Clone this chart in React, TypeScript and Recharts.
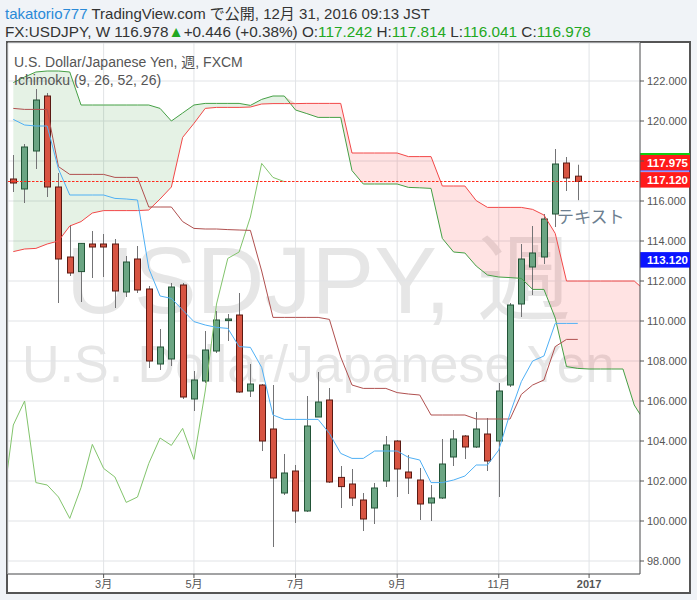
import React from 'react';
import { ComposedChart, Bar, Line, Area, XAxis, YAxis, CartesianGrid, ReferenceLine } from 'recharts';

// weekly bars: index 0 = week of 2016-01-11
const opens = [117.1, 116.6, 118.5, 121.25, 116.7, 113.2, 112.47, 113.85, 113.85, 113.85, 111.45, 113.1, 111.6, 107.85, 108.1, 111.8, 106.1, 107.0, 108.5, 110.02, 110.3, 106.5, 106.8, 104.6, 101.4, 102.5, 100.5, 105.2, 106.05, 102.18, 101.85, 101.05, 100.65, 102.0, 104.0, 102.45, 102.05, 100.9, 101.15, 103.2, 104.25, 103.7, 104.35, 104.0, 106.8, 110.85, 112.7, 113.2, 115.35, 117.9, 117.242];
const highs = [118.3, 118.85, 121.6, 121.4, 117.4, 114.8, 113.9, 114.5, 114.35, 114.1, 113.25, 113.75, 111.75, 109.6, 111.9, 111.9, 107.5, 109.5, 110.5, 110.35, 111.4, 107.85, 106.85, 106.8, 103.35, 102.8, 106.25, 107.45, 106.65, 102.75, 102.6, 101.4, 101.9, 104.25, 104.05, 103.3, 102.65, 101.8, 104.1, 104.55, 104.3, 105.45, 105.15, 106.9, 110.9, 113.85, 114.75, 115.35, 118.6, 118.2, 117.814];
const lows = [116.45, 115.9, 117.6, 116.2, 110.9, 112.25, 110.95, 112.15, 112.2, 110.65, 111.2, 111.4, 107.65, 107.55, 107.75, 106.1, 105.5, 106.9, 108.4, 109.0, 106.4, 106.2, 103.5, 98.7, 101.3, 99.9, 100.45, 105.2, 101.9, 100.65, 100.75, 99.5, 99.85, 101.7, 101.2, 101.35, 100.05, 100.0, 101.1, 102.75, 103.1, 103.65, 102.5, 101.2, 106.7, 110.2, 111.3, 112.85, 114.7, 116.5, 116.041];
const closes = [116.9, 118.7, 121.05, 116.7, 113.1, 112.4, 113.88, 113.7, 113.7, 111.5, 112.95, 111.55, 108.0, 108.7, 111.7, 106.2, 107.05, 108.55, 110.05, 110.1, 106.45, 106.85, 104.0, 102.15, 102.4, 100.5, 104.75, 105.95, 101.95, 101.72, 101.15, 100.1, 101.65, 103.8, 102.6, 102.15, 100.85, 101.15, 102.85, 104.1, 103.7, 104.6, 103.0, 106.5, 110.8, 113.1, 113.4, 115.1, 117.85, 117.15, 116.978];

// Ichimoku (9, 26, 52, 26)
const tenkan = [120.08, 119.8, 119.75, 119.75, 117.6, 116.3, 116.3, 116.3, 116.3, 116.13, 116.1, 116.05, 112.63, 111.25, 111.13, 110.55, 109.97, 109.8, 109.68, 109.63, 108.72, 108.68, 107.68, 105.3, 105.08, 105.08, 105.08, 105.08, 104.38, 103.38, 103.13, 103.13, 103.5, 103.5, 103.5, 103.18, 103.05, 101.92, 101.92, 102.05, 102.25, 102.8, 102.8, 103.55, 105.38, 106.97, 108.0, 108.25, 109.88, 109.88, 109.88];
const kijun = [120.63, 120.58, 120.58, 120.58, 117.72, 117.33, 117.33, 117.33, 117.33, 117.18, 117.18, 117.18, 115.7, 115.7, 115.7, 114.97, 114.63, 114.6, 114.6, 114.57, 114.55, 114.53, 112.5, 110.18, 110.18, 110.18, 110.18, 110.18, 110.08, 108.2, 106.8, 106.63, 106.63, 106.63, 106.42, 106.35, 106.3, 105.3, 105.3, 105.3, 105.3, 105.1, 105.1, 105.1, 105.1, 106.33, 106.8, 107.05, 108.72, 109.08, 109.08];
const senkouA = [121.92, 122.2, 122.45, 122.5, 122.5, 122.45, 120.8, 120.8, 120.8, 120.8, 120.8, 120.8, 120.8, 120.63, 120.0, 120.4, 120.8, 120.88, 120.88, 120.88, 120.88, 120.78, 121.08, 121.25, 121.25, 120.55, 120.37, 120.18, 120.18, 120.18, 117.52, 116.85, 116.85, 116.85, 116.85, 116.68, 116.66, 116.63, 114.13, 113.45, 113.4, 112.75, 112.3, 112.2, 112.17, 112.13, 111.58, 111.58, 110.15, 107.72, 107.63, 107.6, 107.6, 107.6, 107.6, 105.8, 104.9];
const senkouB = [113.47, 113.6, 113.63, 113.85, 114.0, 114.75, 114.97, 115.4, 115.52, 115.52, 115.52, 115.52, 115.55, 116.1, 116.7, 119.18, 119.88, 120.63, 120.68, 120.68, 120.68, 120.7, 120.85, 120.87, 120.87, 120.87, 120.88, 120.88, 120.88, 120.88, 118.4, 118.4, 118.4, 118.4, 118.4, 118.22, 118.22, 118.22, 116.75, 116.75, 116.75, 116.02, 115.68, 115.68, 115.68, 115.68, 115.58, 115.3, 114.38, 112.0, 112.0, 112.0, 112.0, 112.0, 112.0, 112.0, 111.5];
const chikouStart = -1;
const chikou = [100.5, 104.8, 106.0, 101.92, 101.8, 101.2, 100.13, 101.67, 103.83, 102.63, 102.2, 100.93, 101.2, 102.88, 104.15, 103.78, 104.63, 103.08, 106.5, 110.85, 113.13, 113.45, 115.2, 117.88, 117.18, 116.97];

const lastClose = 116.978;
const monthTicks = [8, 16, 25, 34, 43, 51];
const monthLabels = ['3月', '5月', '7月', '9月', '11月', '2017'];
const priceTicks = [98, 100, 102, 104, 106, 108, 110, 112, 114, 116, 118, 120, 122];
const hiddenPriceLabels = [118]; // covered by the price tags in the reference

const rows: any[] = [];
for (let i = -1; i <= 56; i++) {
  const r: any = { i };
  if (i >= 0 && i < opens.length) {
    r.o = opens[i]; r.h = highs[i]; r.l = lows[i]; r.c = closes[i];
    r.hl = [lows[i], highs[i]];
    r.tenkan = tenkan[i]; r.kijun = kijun[i];
  }
  if (i >= 0 && i < senkouA.length) {
    const a = senkouA[i], b = senkouB[i];
    r.a = a; r.b = b;
    r.g = [b, Math.max(a, b)];
    r.rd = [a, Math.max(a, b)];
  }
  const ci = i - chikouStart;
  if (ci >= 0 && ci < chikou.length) r.ch = chikou[ci];
  rows.push(r);
}

const Candle = (props: any) => {
  const { x, y, width, height, payload } = props;
  if (!payload || payload.o == null) return null;
  const { o, h, l, c } = payload;
  const top0 = Math.min(y, y + height);
  const hh = Math.abs(height);
  const py = (v: number) => top0 + ((h - v) / (h - l)) * hh;
  const up = c >= o;
  const cx = Math.round(x + width / 2) + 0.5;
  const bt = py(Math.max(o, c));
  const bb = py(Math.min(o, c));
  return (
    <g>
      <line x1={cx} x2={cx} y1={py(h)} y2={py(l)} stroke="#737375" strokeWidth={1} />
      <rect x={cx - 3} y={bt} width={6} height={Math.max(bb - bt, 1)}
        fill={up ? '#6ba583' : '#d75442'} stroke={up ? '#225437' : '#5b1a13'} strokeWidth={1} />
    </g>
  );
};

const XTick = (props: any) => {
  const { x, y, payload } = props;
  const idx = monthTicks.indexOf(payload.value);
  const label = idx >= 0 ? monthLabels[idx] : '';
  return (
    <text x={x} y={y} dy="0.71em" textAnchor="middle" fontSize={11} fill="#555"
      fontWeight={label === '2017' ? 'bold' : 'normal'}>{label}</text>
  );
};

const YTick = (props: any) => {
  const { x, y, payload } = props;
  if (hiddenPriceLabels.indexOf(payload.value) >= 0) return null;
  return (
    <text x={x} y={y} dy="0.355em" textAnchor="start" fontSize={11} fill="#555">{Number(payload.value).toFixed(3)}</text>
  );
};

const PriceLine = (props: any) => {
  const { viewBox } = props;
  if (!viewBox) return null;
  const yy = Math.round(viewBox.y) + 0.5;
  const x0 = viewBox.x, x1 = viewBox.x + viewBox.width;
  const segs: any[] = [];
  for (let xx = x0; xx < x1; xx += 4) {
    segs.push(<rect key={xx} x={xx} y={yy - 0.5} width={2.5} height={1} fill="#ff2a1a" />);
  }
  return <g>{segs}</g>;
};

const Tag = (props: any) => {
  const { viewBox, text, bg, topLine, bottomLine } = props;
  if (!viewBox) return null;
  const x0 = viewBox.x + viewBox.width;
  const y0 = viewBox.y;
  return (
    <g>
      <rect x={x0} y={y0 - 6.5} width={50} height={15.5} fill={bg} />
      {topLine ? <line x1={x0} x2={x0 + 50} y1={y0 - 7.5} y2={y0 - 7.5} stroke={topLine} strokeWidth={2} /> : null}
      {bottomLine ? <line x1={x0} x2={x0 + 50} y1={y0 + 9.5} y2={y0 + 9.5} stroke={bottomLine} strokeWidth={1} /> : null}
      <text x={x0 + 7} y={y0 + 5.5} fill="#fff" fontSize={11.5} fontWeight="bold">{text}</text>
    </g>
  );
};

const FONT = '"Liberation Sans", Arial, "Noto Sans CJK JP", sans-serif';

export default function App() {
  return (
    <div style={{ position: 'absolute', left: 0, top: 0, width: 697, height: 600, background: '#f0f3f7', fontFamily: FONT, overflow: 'hidden' }}>
      <div style={{ position: 'absolute', left: 6, top: 41, width: 685, height: 553, border: '2px solid #555', boxSizing: 'border-box', background: '#fff' }} />
      <svg width={697} height={600} style={{ position: 'absolute', left: 0, top: 0 }}>
        <text x={66} y={313} fontSize={94} fill="#e6e6e6" fontFamily={FONT}>USDJPY, 週</text>
        <text x={22} y={382} fontSize={52} fill="#e6e6e6" fontFamily={FONT}>U.S. Dollar/Japanese Yen</text>
      </svg>
      <div style={{ position: 'absolute', left: 0, top: 0 }}>
        <ComposedChart width={697} height={600} data={rows} margin={{ top: 43, left: 8, right: 7, bottom: 6 }}>
          <CartesianGrid stroke="#e1e3e6" strokeWidth={1} />
          <XAxis dataKey="i" type="number" domain={[-0.47, 55.51]} allowDataOverflow ticks={monthTicks}
            interval={0} height={20} tickSize={4} tickMargin={2} tick={<XTick />}
            axisLine={{ stroke: '#555' }} tickLine={{ stroke: '#555' }} />
          <YAxis orientation="right" domain={[97.35, 123.9]} allowDataOverflow ticks={priceTicks}
            interval={0} width={50} tickSize={4} tickMargin={3}
            tick={<YTick />} axisLine={{ stroke: '#555' }} tickLine={{ stroke: '#555' }} />
          <Area dataKey="g" type="linear" stroke="none" fill="#008000" fillOpacity={0.1} isAnimationActive={false} />
          <Area dataKey="rd" type="linear" stroke="none" fill="#ff0000" fillOpacity={0.11} isAnimationActive={false} />
          <Line dataKey="ch" type="linear" stroke="#82c46c" strokeWidth={1} dot={false} isAnimationActive={false} />
          <Line dataKey="a" type="linear" stroke="#45a045" strokeWidth={1} dot={false} isAnimationActive={false} />
          <Line dataKey="b" type="linear" stroke="#f24848" strokeWidth={1} dot={false} isAnimationActive={false} />
          <Line dataKey="kijun" type="linear" stroke="#b0504f" strokeWidth={1} dot={false} isAnimationActive={false} />
          <Line dataKey="tenkan" type="linear" stroke="#4fb0f5" strokeWidth={1} dot={false} isAnimationActive={false} />
          <ReferenceLine y={lastClose} stroke="none" label={<PriceLine />} />
          <Bar dataKey="hl" barSize={7} shape={<Candle />} isAnimationActive={false} />
          <ReferenceLine y={117.975} stroke="none" label={<Tag text="117.975" bg="#ff1a1a" topLine="#11cc11" bottomLine="#2233ff" />} />
          <ReferenceLine y={117.12} stroke="none" label={<Tag text="117.120" bg="#ff1a1a" />} />
          <ReferenceLine y={113.12} stroke="none" label={<Tag text="113.120" bg="#0a14ff" />} />
        </ComposedChart>
      </div>
      <svg width={697} height={600} style={{ position: 'absolute', left: 0, top: 0, pointerEvents: 'none' }}>
        <text x={5} y={18.5} fontSize={15} fill="#333" fontFamily={FONT}>
          <tspan fill="#2a8ad8">takatorio777</tspan> TradingView.com で公開, 12月 31, 2016 09:13 JST
        </text>
        <text x={5} y={36.5} fontSize={15.3} fill="#333" fontFamily={FONT}>
          FX:USDJPY, W 116.978<tspan fill="#22a822">▲</tspan>+0.446 (+0.38%) O:<tspan fill="#22a822">117.242</tspan> H:<tspan fill="#22a822">117.814</tspan> L:<tspan fill="#22a822">116.041</tspan> C:<tspan fill="#22a822">116.978</tspan>
        </text>
        <text x={14} y={67} fontSize={14} fill="#555" fontFamily={FONT}>U.S. Dollar/Japanese Yen, 週, FXCM</text>
        <text x={14} y={85} fontSize={14} fill="#555" fontFamily={FONT}>Ichimoku (9, 26, 52, 26)</text>
        <text x={557} y={223} fontSize={17} fill="#6d7f90" fontFamily={FONT}>テキスト</text>
      </svg>
    </div>
  );
}
